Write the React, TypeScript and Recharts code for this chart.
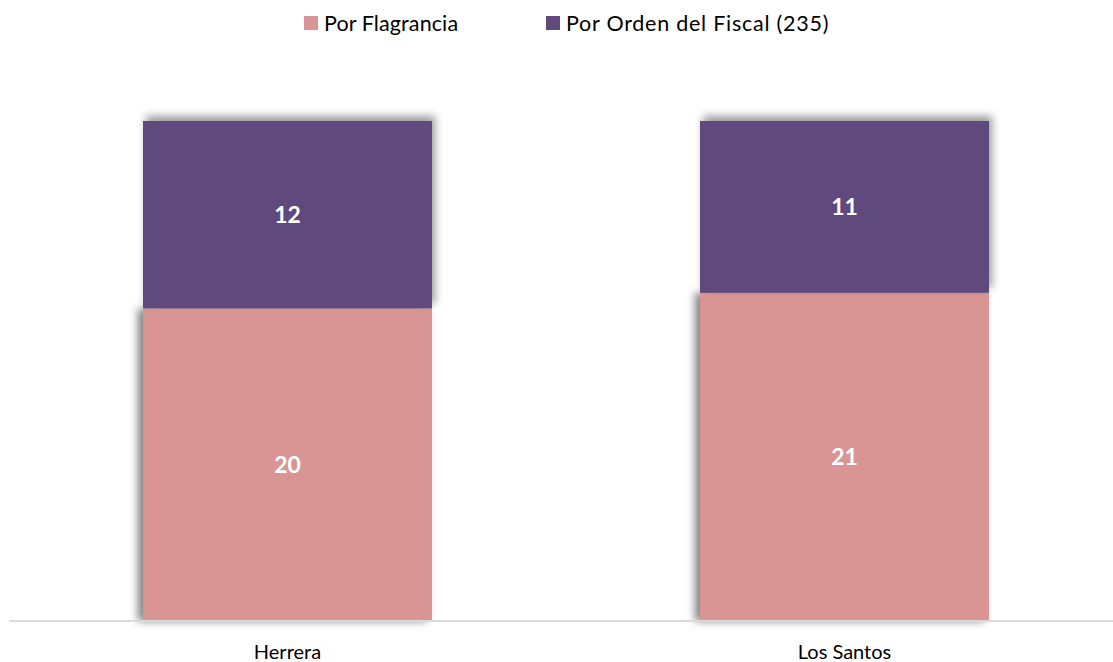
import React from 'react';
import { BarChart, Bar, XAxis, YAxis, LabelList } from 'recharts';

const categories = ['Herrera', 'Los Santos'];
const flagrancia = [20, 21];
const ordenFiscal = [12, 11];
const seriesNames = ['Por Flagrancia', 'Por Orden del Fiscal (235)'];
const seriesColors = ['#D99594', '#604A7B'];

const data = categories.map((c, i) => ({
  name: c,
  flagrancia: flagrancia[i],
  orden: ordenFiscal[i],
}));

const FONT = 'Lato, "Open Sans", sans-serif';

const makeShape = (id: string, dx: number, dy: number, alpha: number) => (props: any) => {
  const { x, y, width, height, fill } = props;
  return (
    <g>
      <defs>
        <filter id={id} x="-20%" y="-20%" width="140%" height="140%">
          <feGaussianBlur in="SourceAlpha" stdDeviation="4" />
          <feOffset dx={dx} dy={dy} result="off" />
          <feComponentTransfer>
            <feFuncA type="linear" slope={alpha} />
          </feComponentTransfer>
          <feMerge>
            <feMergeNode />
            <feMergeNode in="SourceGraphic" />
          </feMerge>
        </filter>
      </defs>
      <rect x={x} y={y} width={width} height={height} fill={fill} filter={`url(#${id})`} />
    </g>
  );
};

const pinkShape = makeShape('shPink', -5, 0, 0.5);
const purpleShape = makeShape('shPurple', 3, -5, 0.4);

export default function App() {
  return (
    <div style={{ position: 'absolute', left: 0, top: 0, width: 1113, height: 662, overflow: 'hidden', background: '#fff', fontFamily: FONT }}>
      <div style={{ position: 'absolute', left: 304, top: 16, width: 14, height: 14, background: seriesColors[0] }} />
      <div style={{ position: 'absolute', left: 324, top: 10, fontSize: 21.5, letterSpacing: 0.1, lineHeight: '26px', color: '#000', whiteSpace: 'nowrap' }}>{seriesNames[0]}</div>
      <div style={{ position: 'absolute', left: 546, top: 16, width: 14, height: 14, background: seriesColors[1] }} />
      <div style={{ position: 'absolute', left: 566, top: 10, fontSize: 21.5, letterSpacing: 0.75, lineHeight: '26px', color: '#000', whiteSpace: 'nowrap' }}>{seriesNames[1]}</div>
      <div style={{ position: 'absolute', left: 0, top: 0 }}>
        <BarChart
          width={1123}
          height={662}
          data={data}
          stackOffset="expand"
          margin={{ top: 121, right: 0, bottom: 0, left: 9 }}
          barSize={289}
        >
          <XAxis
            dataKey="name"
            height={41}
            axisLine={{ stroke: '#D9D9D9', strokeWidth: 2 }}
            tickLine={false}
            tick={{ fill: '#000', fontSize: 20, fontFamily: FONT }}
            tickMargin={18}
          />
          <YAxis hide domain={[0, 1]} />
          <Bar dataKey="flagrancia" stackId="a" fill={seriesColors[0]} isAnimationActive={false} shape={pinkShape}>
            <LabelList dataKey="flagrancia" position="center" fill="#fff" fontSize={23} fontWeight="bold" fontFamily={FONT} />
          </Bar>
          <Bar dataKey="orden" stackId="a" fill={seriesColors[1]} isAnimationActive={false} shape={purpleShape}>
            <LabelList dataKey="orden" position="center" fill="#fff" fontSize={23} fontWeight="bold" fontFamily={FONT} />
          </Bar>
        </BarChart>
      </div>
    </div>
  );
}
